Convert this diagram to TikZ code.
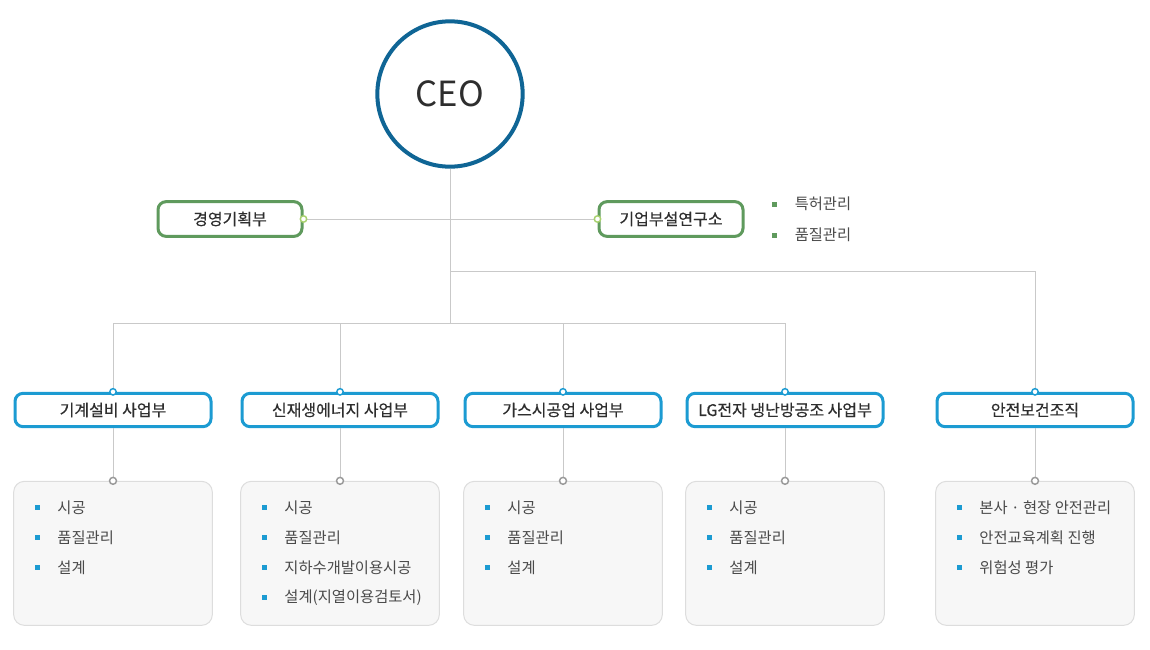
\documentclass[tikz,border=0pt]{standalone}
\usepackage{fontspec}
\setmainfont{Noto Sans CJK KR}
\newfontfamily\labelfont{Noto Sans CJK KR}[FakeBold=0.35]
\usetikzlibrary{positioning,calc}
\definecolor{ceoblue}{HTML}{0F6595}
\definecolor{deptblue}{HTML}{1C9BD2}
\definecolor{labgreen}{HTML}{5F9A5D}
\definecolor{dotgreen}{HTML}{A9D170}
\definecolor{linegray}{HTML}{C9C9C9}
\definecolor{edgegray}{HTML}{DDDDDD}
\definecolor{boxgray}{HTML}{F7F7F7}
\definecolor{dotgray}{HTML}{9A9A9A}
\definecolor{textgray}{HTML}{2E2E2E}
\definecolor{itemgray}{HTML}{4A4A4A}
\tikzset{
	dept/.style={draw=deptblue, line width=2.25pt, rounded corners=6pt, fill=white, minimum width=147pt, minimum height=25pt, inner sep=0pt, text=textgray, font=\labelfont\fontsize{12}{14}\selectfont},
	lab/.style={dept, draw=labgreen, minimum width=108pt, minimum height=26pt},
	taskbox/.style={draw=edgegray, fill=boxgray, line width=.75pt, rounded corners=8pt, minimum width=149pt, minimum height=108pt, inner sep=0pt},
	item/.style={anchor=west, inner sep=0pt, text=itemgray, font=\fontsize{11.5}{13}\selectfont}
}
\tikzstyle{wire}=[draw=linegray, line width=.75pt]
\tikzstyle{bluedot}=[draw=deptblue, fill=white, line width=1.1pt]
\tikzstyle{graydot}=[draw=dotgray, fill=white, line width=1.1pt]
\tikzstyle{greendot}=[draw=dotgreen, fill=white, line width=1.1pt]
\newcommand{\tasklist}[4]{
	% #1 first bullet, #2 bullet colour, #3 line step, #4 items
	\foreach \txt [count=\k from 0] in {#4} {
		\fill[#2] ($(#1)+(-2.5,{#3*\k-2.5})$) rectangle ++(5,5);
		\node[item] (#1-\k) at ($(#1)+(20,{#3*\k})$) {\txt};
	}
}

\begin{document}
\begin{tikzpicture}[x=.75pt, y=-.75pt]
	\useasboundingbox (0,0) rectangle (1150,650);
	\node[circle, draw=ceoblue, line width=3pt, fill=white, minimum size=109pt, text=textgray, font=\fontsize{26}{28}\selectfont] (ceo) at (450,94) {CEO};
	\node[lab] (plan) at (230,219) {경영기획부};
	\node[lab] (lab) at (671,219) {기업부설연구소};
%
	\node[dept] (d1) at (113,410) {기계설비 사업부};
	\node[dept] (d2) at (340,410) {신재생에너지 사업부};
	\node[dept] (d3) at (563,410) {가스시공업 사업부};
	\node[dept] (d4) at (785,410) {LG전자 냉난방공조 사업부};
	\node[dept] (d5) at (1035,410) {안전보건조직};
	\foreach \d in {1,...,5}
		\node[taskbox, below=39.5pt of d\d] (g\d) {};
%
	\coordinate (bus) at (450,323);
	\coordinate (branch) at (450,271);
	\draw[wire] (ceo.south) -- (bus);
	\draw[wire] (plan.east) -- (lab.west);
	\draw[wire] (branch) -| (d5.north);
	\draw[wire] (d1.north |- bus) -- (d4.north |- bus);
	\foreach \d in {1,...,4}
		\draw[wire] (d\d.north) -- (d\d.north |- bus);
	\foreach \d in {1,...,5}
		\draw[wire] (d\d.south) -- (g\d.north);
%
	\filldraw[greendot] (plan.east) circle (2.4pt);
	\filldraw[greendot] (lab.west) circle (2.4pt);
	\foreach \d in {1,...,5} {
		\filldraw[bluedot] (d\d.north) circle (2.4pt);
		\filldraw[graydot] (g\d.north) circle (2.6pt);
		\coordinate (t\d) at ($(g\d.north west)+(24,27)$);
	}
%
	\coordinate (l) at ($(lab.east)+(30,-15)$);
	\tasklist{l}{labgreen}{31}{특허관리,품질관리}
	\tasklist{t1}{deptblue}{30}{시공,품질관리,설계}
	\tasklist{t2}{deptblue}{30}{시공,품질관리,지하수개발이용시공,설계(지열이용검토서)}
	\tasklist{t3}{deptblue}{30}{시공,품질관리,설계}
	\tasklist{t4}{deptblue}{30}{시공,품질관리,설계}
	\tasklist{t5}{deptblue}{30}{본사 · 현장 안전관리,안전교육계획 진행,위험성 평가}
\end{tikzpicture}
\end{document}
